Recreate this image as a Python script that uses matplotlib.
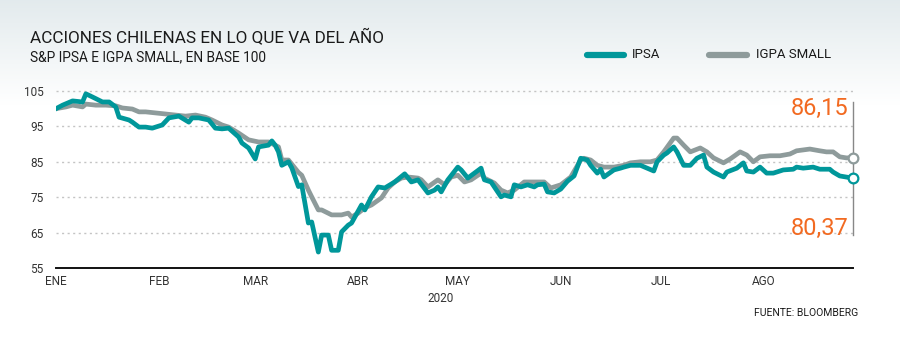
import numpy as np
import matplotlib
matplotlib.use("Agg")
import matplotlib.pyplot as plt

plt.rcParams['font.family'] = ['Roboto', 'DejaVu Sans']

### days since 1 jan 2020 and index values (base 100)
ipsa_days = [0, 2, 5, 8, 9, 11, 14, 16, 18, 19, 22, 23, 25, 27, 29, 32, 34, 37, 40, 41,
             43, 46, 48, 50, 52, 55, 56, 58, 60, 61, 64, 65, 66, 67, 68, 70, 71, 73, 74, 76,
             77, 79, 80, 82, 83, 85, 86, 88, 89, 92, 93, 95, 97, 99, 102, 105, 107, 109, 112, 114,
             115, 116, 118, 121, 122, 124, 126, 128, 129, 131, 134, 135, 137, 138, 140, 142, 144, 145, 147, 148,
             150, 152, 154, 156, 158, 160, 161, 163, 164, 165, 168, 170, 171, 173, 176, 178, 180, 181, 183, 184,
             186, 187, 189, 191, 193, 195, 196, 198, 201, 202, 205, 207, 208, 210, 212, 214, 216, 219, 222, 223,
             225, 228, 230, 233, 234, 236, 238, 240]
ipsa_vals = [100, 101, 102.2, 101.9, 104.2, 103.3, 101.9, 101.9, 100.5, 97.6, 96.8, 96.2, 94.8, 94.8, 94.5, 95.4, 97.4, 97.9, 96.2, 97.4,
             97.4, 96.8, 94.5, 94.3, 94.5, 92, 90.3, 88.9, 85.8, 89.2, 89.7, 90.9, 89.7, 87.8, 84, 85, 83.3, 78, 78.5, 67.7,
             68, 59.5, 64.3, 64.3, 60, 60, 65.2, 67.1, 67.7, 72.8, 71.4, 75.1, 77.9, 77.6, 79.3, 81.6, 79.3, 79.9, 76.2, 77,
             77.9, 76.5, 79.9, 83.5, 82.7, 80.4, 81.8, 83.2, 79.9, 79.3, 75.1, 75.6, 75.1, 78.5, 77.9, 78.5, 77.9, 78.5, 78.7, 76.5,
             76.2, 77.3, 79.5, 81, 86, 85.5, 84, 81.8, 82.9, 80.7, 82.7, 83.2, 83.5, 84, 84, 83.2, 82.4, 85, 86.9, 87.5,
             89.2, 87.8, 84, 84, 86, 86.9, 83.5, 82.1, 80.7, 82.1, 83.2, 84.7, 82.4, 82.1, 83.5, 81.8, 81.8, 82.7, 82.9, 83.5,
             83.2, 83.5, 82.9, 82.9, 82.1, 81, 80.7, 80.37]

igpa_days = [0, 3, 5, 8, 9, 12, 15, 18, 20, 23, 25, 27, 30, 33, 36, 39, 42, 45, 47, 50,
             52, 55, 58, 61, 64, 67, 68, 70, 73, 74, 76, 77, 79, 80, 83, 86, 88, 89, 91, 93,
             95, 98, 100, 102, 104, 106, 109, 110, 112, 115, 117, 119, 121, 123, 125, 128, 129, 132, 134, 136,
             138, 141, 144, 147, 149, 152, 155, 158, 159, 161, 163, 165, 168, 171, 173, 176, 179, 181, 183, 186,
             187, 189, 191, 194, 196, 198, 201, 203, 206, 208, 210, 212, 215, 218, 221, 223, 227, 230, 232, 234,
             236, 238, 240]
igpa_vals = [100, 100.5, 101, 100.5, 101.3, 101, 101, 100.8, 100.2, 99.9, 99.1, 99.1, 98.8, 98.5, 98.2, 97.9, 98.2, 97.6, 96.8, 95.4,
             94.8, 93.1, 91.2, 90.6, 90.6, 89.2, 85.5, 85.5, 82, 81.2, 77, 75.1, 71.4, 71.4, 70, 70, 70.5, 69.4, 70.5, 72,
             72.8, 74.8, 77.6, 79.3, 80.4, 80.7, 80.4, 79.9, 77.9, 79.9, 78.5, 80.7, 81.2, 79.3, 79.9, 81.8, 80.4, 79, 77, 76.2,
             77, 79.3, 79.3, 79.3, 77.6, 78.5, 80.7, 85.5, 86, 85.5, 84, 83.5, 83.5, 84, 84.7, 85, 85, 85.5, 87.8, 91.7,
             91.7, 89.7, 87.8, 88.9, 87.8, 86.1, 84.7, 85.8, 87.8, 86.9, 85, 86.4, 86.7, 86.7, 87.2, 88.1, 88.6, 88.1, 87.8, 87.8,
             86.4, 86.1, 86.15]

month_days = [0, 31, 60, 91, 121, 152, 182, 213]
month_labels = ["ENE", "FEB", "MAR", "ABR", "MAY", "JUN", "JUL", "AGO"]
y_ticks = [55, 65, 75, 85, 95, 105]

teal = "#00979a"
grey = "#8e9b9b"
orange = "#f26a21"

fig = plt.figure(figsize=(9, 3.48), dpi=100)

### light header gradient
bg = fig.add_axes([0, 0, 1, 1], zorder=-10)
grad = np.linspace(0, 1, 256).reshape(-1, 1)
top = np.array([0.89, 0.92, 0.93])
rgb = top + (1 - top) * np.clip(grad / 0.3, 0, 1)[..., None]
bg.imshow(rgb.reshape(256, 1, 3), aspect="auto", extent=[0, 1, 0, 1])
bg.set_axis_off()

ax = fig.add_axes([0.0622, 0.2299, 0.8856, 0.529])
ax.patch.set_alpha(0)
ax.plot(igpa_days, igpa_vals, color=grey, lw=3.4, solid_joinstyle="round", zorder=3)
ax.plot(ipsa_days, ipsa_vals, color=teal, lw=3.4, solid_joinstyle="round", zorder=4)

ax.plot([igpa_days[-1]], [igpa_vals[-1]], "o", ms=7, mfc="white", mec=grey, mew=1.6, zorder=6, clip_on=False)
ax.plot([ipsa_days[-1]], [ipsa_vals[-1]], "o", ms=7, mfc="white", mec=teal, mew=1.6, zorder=6, clip_on=False)

ax.set_xlim(0, 240)
ax.set_ylim(55, 107)
ax.set_yticks(y_ticks)
ax.set_yticklabels([str(v) for v in y_ticks], fontsize=8.5, color="#333333")
ax.set_xticks(month_days)
ax.set_xticklabels(month_labels, fontsize=8.5, color="#333333")
ax.tick_params(length=0, axis="y", pad=9)
ax.tick_params(length=0, axis="x", pad=5)
for v in y_ticks[1:]:
    ax.axhline(v, color="#c4c4c4", lw=1, ls=(0, (1.5, 2.5)), zorder=1)
for s in ["top", "right", "left"]:
    ax.spines[s].set_visible(False)
ax.spines["bottom"].set_color("#111111")
ax.spines["bottom"].set_linewidth(1.4)

### end value annotations
ax.plot([240, 240], [101.9, 64.3], color="#888888", lw=1, zorder=2, clip_on=False)
ax.text(238.5, 98.2, "86,15", color=orange, fontsize=17, ha="right", va="baseline")
ax.text(238.5, 64.2, "80,37", color=orange, fontsize=17, ha="right", va="baseline")

ax.text(0.483, -0.165, "2020", transform=ax.transAxes, fontsize=8.5, color="#333333", ha="center", va="center")

fig.text(30 / 900, 1 - 38 / 348, "ACCIONES CHILENAS EN LO QUE VA DEL AÑO", fontsize=12.3, color="#1a1a1a", va="center")
fig.text(30 / 900, 1 - 57 / 348, "S&P IPSA E IGPA SMALL, EN BASE 100", fontsize=9.8, color="#1a1a1a", va="center")
fig.text(858 / 900, 1 - 313 / 348, "FUENTE: BLOOMBERG", fontsize=7.5, color="#1a1a1a", ha="right", va="center")

### legend
fig.lines.append(plt.Line2D([587 / 900, 624 / 900], [1 - 55 / 348] * 2, color=teal, lw=4.5,
                            solid_capstyle="round", transform=fig.transFigure))
fig.text(632 / 900, 1 - 55 / 348, "IPSA", fontsize=9.5, color="#1a1a1a", va="center")
fig.lines.append(plt.Line2D([709 / 900, 747 / 900], [1 - 55 / 348] * 2, color=grey, lw=4.5,
                            solid_capstyle="round", transform=fig.transFigure))
fig.text(756 / 900, 1 - 55 / 348, "IGPA SMALL", fontsize=9.5, color="#1a1a1a", va="center")

fig.savefig("out.png", dpi=100)
